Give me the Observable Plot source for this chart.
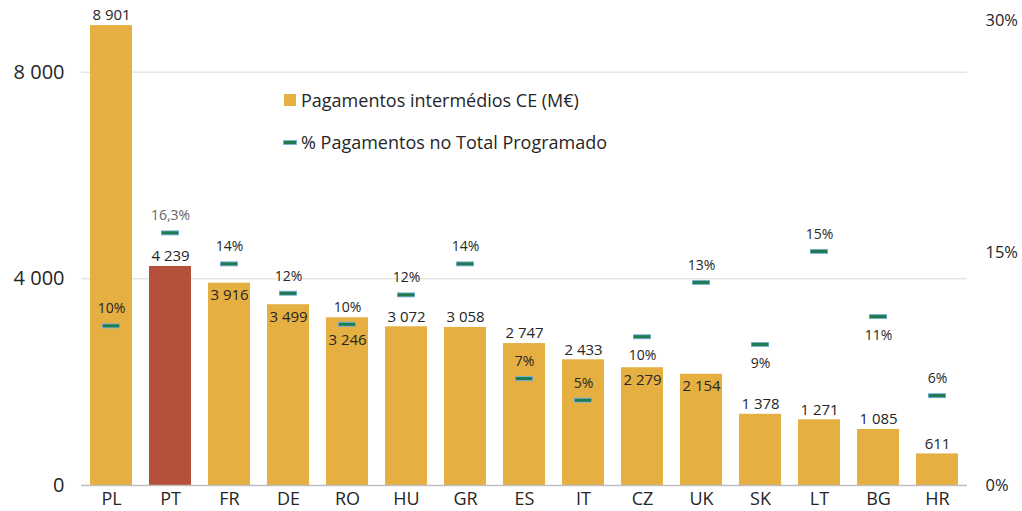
<!DOCTYPE html>
<html>
<head>
<meta charset="utf-8">
<script src="https://cdn.jsdelivr.net/npm/d3@7"></script>
<script src="https://cdn.jsdelivr.net/npm/@observablehq/plot@0.6"></script>
<style>
  html, body { margin: 0; padding: 0; background: #fff; }
  #wrap { position: relative; width: 1022px; height: 511px; font-family: "Open Sans", sans-serif; }
  #legend { position: absolute; left: 283px; top: 79px; font-size: 18px; color: #262626; }
  #legend .row { display: flex; align-items: center; height: 42px; }
  #legend .sw { width: 12px; height: 12px; background: #E5AF42; margin-right: 5px; margin-left: 1px; }
  #legend .dash { width: 12px; height: 3px; background: #1E7B4E; border: 1px solid #7FB1D9; margin-right: 4px; }
</style>
</head>
<body>
<div id="wrap">
  <div id="chart"></div>
  <div id="legend">
    <div class="row"><span class="sw"></span><span>Pagamentos intermédios CE (M€)</span></div>
    <div class="row"><span class="dash"></span><span>% Pagamentos no Total Programado</span></div>
  </div>
</div>
<script>
// ---- data ----
const categories = ["PL","PT","FR","DE","RO","HU","GR","ES","IT","CZ","UK","SK","LT","BG","HR"];
const payments   = [8901, 4239, 3916, 3499, 3246, 3072, 3058, 2747, 2433, 2279, 2154, 1378, 1271, 1085, 611];
const sharePct   = [10.3, 16.3, 14.3, 12.4, 10.4, 12.3, 14.3, 6.9, 5.5, 9.6, 13.1, 9.1, 15.1, 10.9, 5.8];
const shareLabels = ["10%","16,3%","14%","12%","10%","12%","14%","7%","5%","10%","13%","9%","15%","11%","6%"];
const leftTicks  = [0, 4000, 8000];
const rightTicks = [0, 15, 30];      // percent
const highlight  = "PT";

// label placement (layout keywords, not values)
const valuePlacement = ["above","above","inside","inside","low","above","above","above","above","inside","inside","above","above","above","above"];
const sharePlacement = ["above","above","above","above","above","above","above","above","above","below","above","below","above","below","above"];

// ---- build ----
const yMax = 9000, pctMax = 30, k = yMax / pctMax;
const locale = d3.formatLocale({decimal: ",", thousands: " ", grouping: [3], currency: ["", "€"]});
const fmt = locale.format(",d");

const rows = categories.map((c, i) => ({
  c, v: payments[i], p: sharePct[i], py: sharePct[i] * k,
  pl: shareLabels[i], vp: valuePlacement[i], sp: sharePlacement[i]
}));

const gold = "#E5AF42", red = "#B5503B", green = "#1E7B4E", blueEdge = "#7FB1D9";
const txt = "#262626";

const chart = Plot.plot({
  width: 1022,
  height: 511,
  marginLeft: 81,
  marginRight: 55,
  marginTop: 20,
  marginBottom: 26,
  style: {fontFamily: "Open Sans, sans-serif", color: txt, background: "#fff"},
  x: {domain: categories, paddingInner: 0.29, paddingOuter: 0.14, label: null},
  y: {domain: [0, yMax], label: null},
  marks: [
    Plot.gridY(leftTicks.filter(d => d > 0), {stroke: "#d9d9d9", strokeOpacity: 1}),
    Plot.barY(rows, {x: "c", y: "v", fill: d => d.c === highlight ? red : gold}),
    Plot.ruleY([0], {stroke: "#bfbfbf", strokeWidth: 1.5}),
    Plot.axisY({ticks: leftTicks, tickFormat: fmt, tickSize: 0, tickPadding: 17, fontSize: 20, label: null}),
    Plot.axisY({anchor: "right", ticks: rightTicks.map(p => p * k), tickFormat: d => Math.round(d / k) + "%", tickSize: 0, tickPadding: 18, fontSize: 16.5, label: null}),
    Plot.axisX({tickSize: 0, tickPadding: 7, fontSize: 18, label: null}),
    // share markers
    Plot.tickY(rows, {x: "c", y: "py", stroke: blueEdge, strokeWidth: 5, insetLeft: 12, insetRight: 12}),
    Plot.tickY(rows, {x: "c", y: "py", stroke: green, strokeWidth: 3, insetLeft: 12.8, insetRight: 12.8}),
    // value labels
    Plot.text(rows.filter(d => d.vp === "above"), {x: "c", y: "v", text: d => fmt(d.v), dy: -10, fontSize: 15, fill: txt}),
    Plot.text(rows.filter(d => d.vp === "inside"), {x: "c", y: "v", text: d => fmt(d.v), dy: 12, fontSize: 15, fill: txt}),
    Plot.text(rows.filter(d => d.vp === "low"), {x: "c", y: "v", text: d => fmt(d.v), dy: 22, fontSize: 15, fill: txt}),
    // share labels
    Plot.text(rows.filter(d => d.sp === "above"), {x: "c", y: "py", text: "pl", dy: -17, fontSize: 14, fill: d => d.c === highlight ? "#666" : txt}),
    Plot.text(rows.filter(d => d.sp === "below"), {x: "c", y: "py", text: "pl", dy: 19, fontSize: 14, fill: txt})
  ]
});
document.getElementById("chart").appendChild(chart);
</script>
</body>
</html>
